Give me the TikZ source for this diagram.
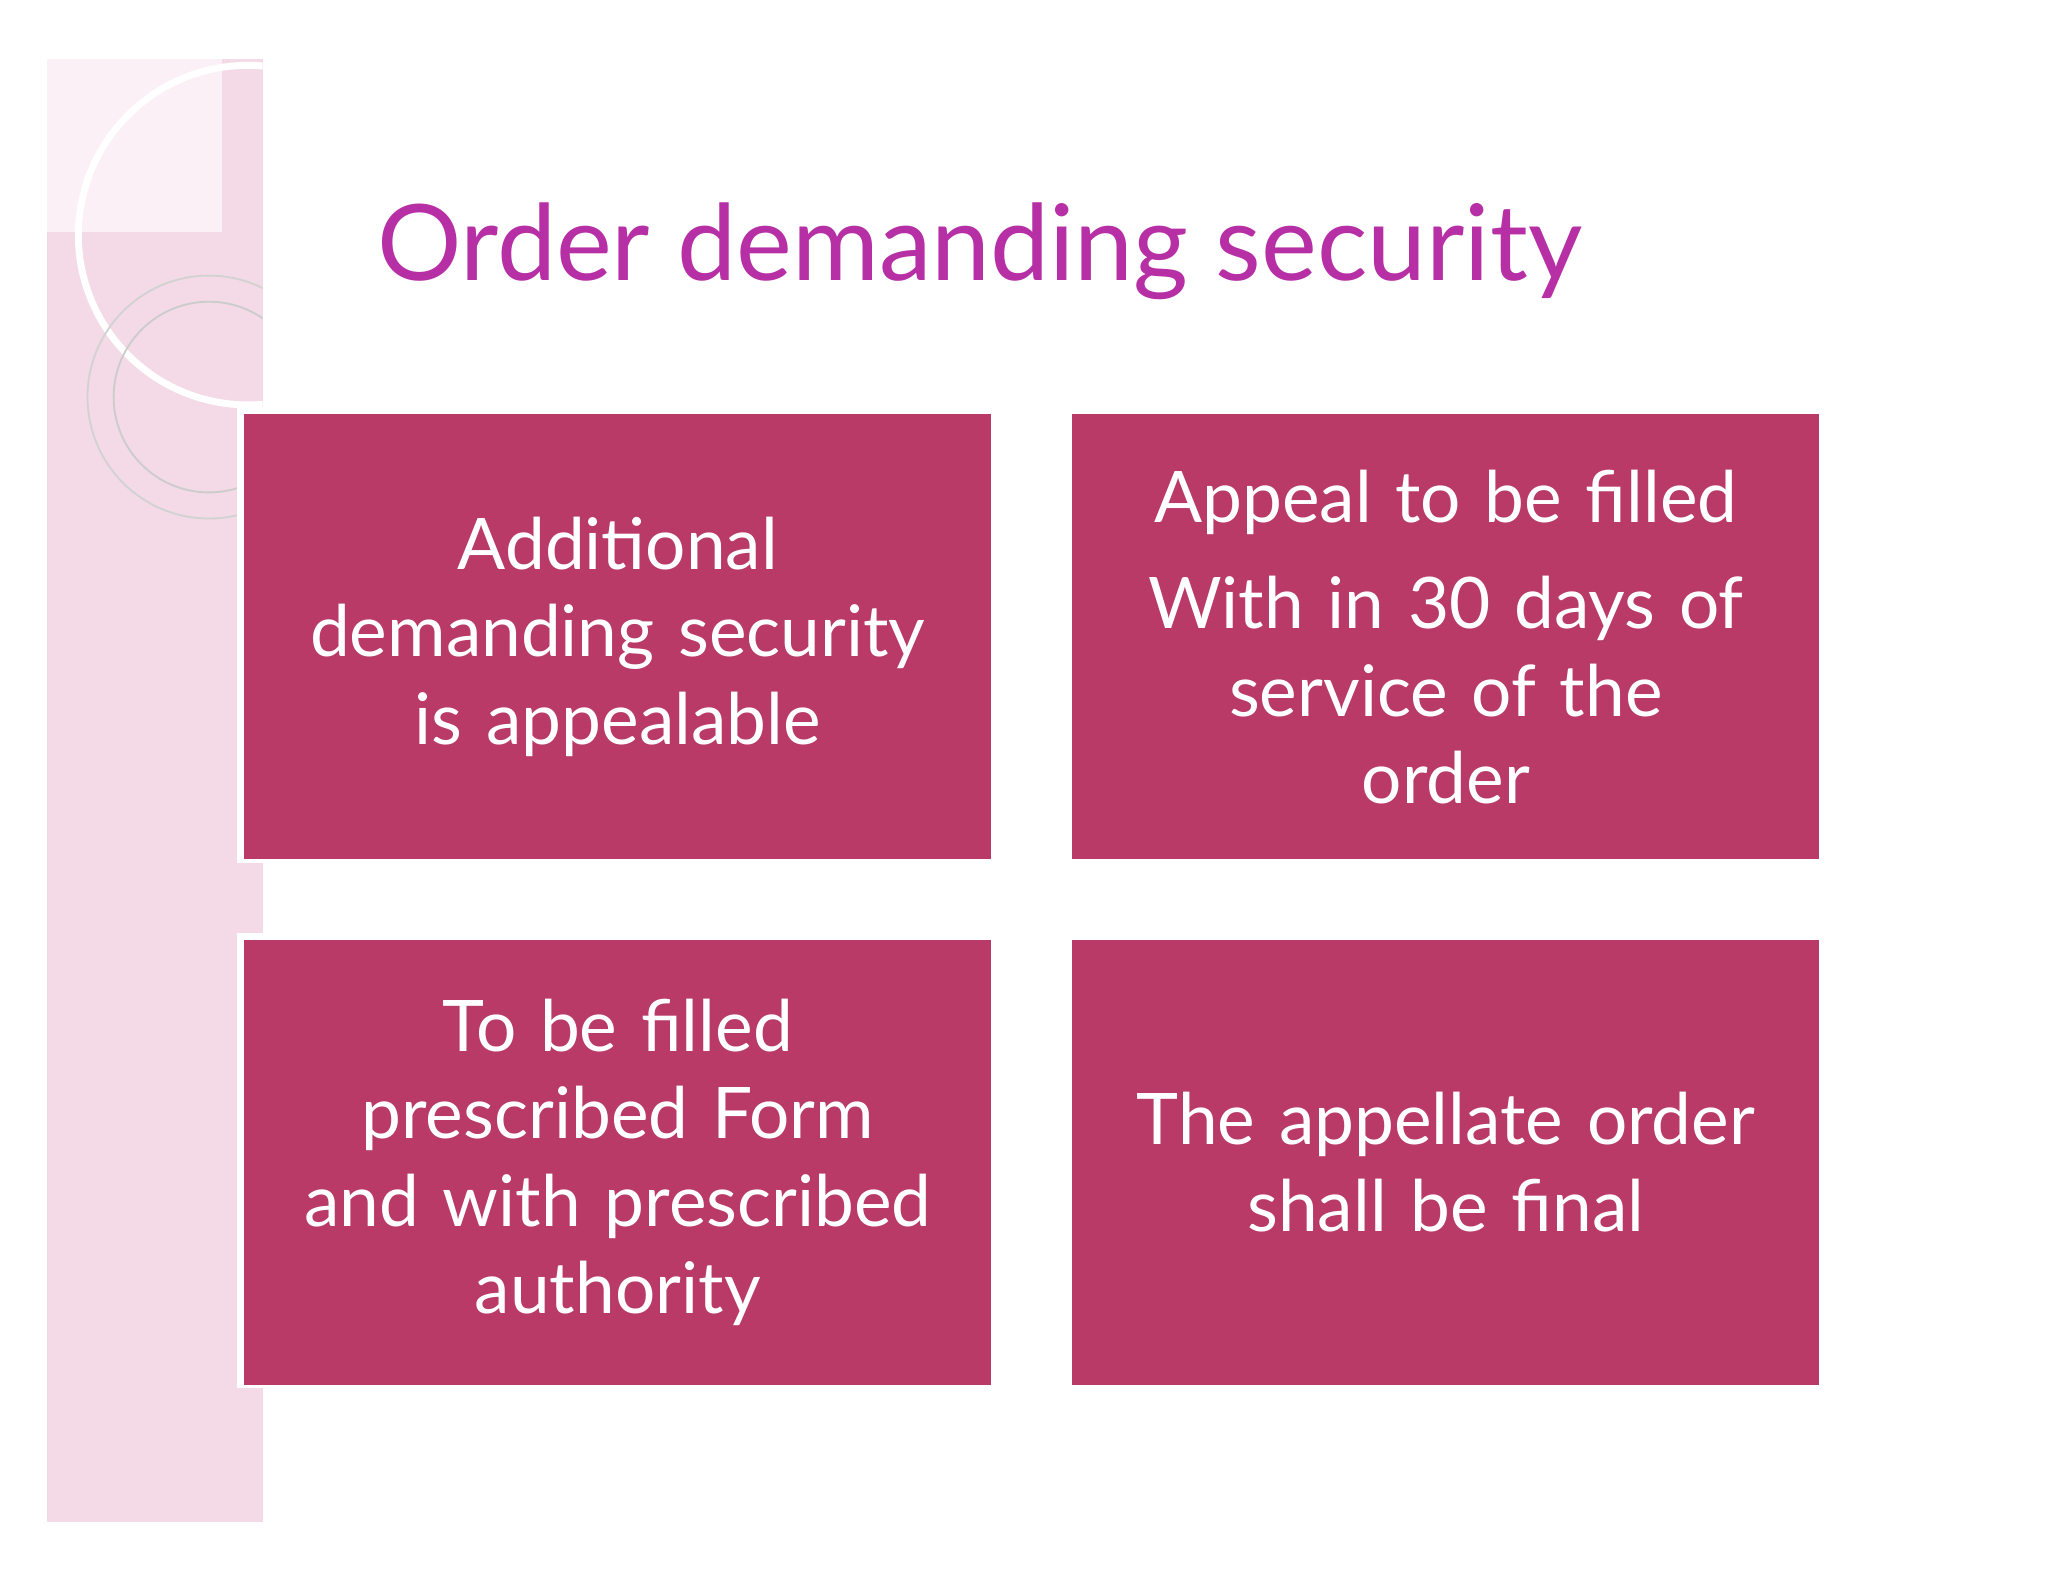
\documentclass[tikz,border=0pt]{standalone}
\usepackage{fontspec}
\setmainfont{Lato}
\begin{document}
\begin{tikzpicture}[x=0.1mm,y=-0.1mm,
  card/.style={fill=cardc,text=white,align=center,font=\fontsize{15.5}{19}\selectfont,inner sep=0pt,text width=55mm,minimum width=57.2mm,minimum height=34.1mm},
  ]
\definecolor{cardc}{HTML}{B93A66}
\definecolor{titlec}{HTML}{B62FA5}
\definecolor{stripc}{HTML}{F3DAE6}
\useasboundingbox (0,0) rectangle (1568,1211);
\fill[white] (0,0) rectangle (1568,1211);
\fill[stripc] (36,45) rectangle (201,1165);
\fill[white!60!stripc] (36,45) rectangle (170,178);
\begin{scope}
\clip (36,45) rectangle (201,1165);
\draw[white,line width=1.5pt] (190,180) circle (130);
\draw[gray!40] (160,304) circle (73);
\draw[gray!35] (160,304) circle (93);
\end{scope}
\node[text=titlec,font=\fontsize{23}{28}\selectfont,anchor=base west,inner sep=0pt] (title) at (288,215) {Order demanding security};
\draw[white,line width=1.5pt] (184,314) rectangle (759,658);
\draw[white,line width=1.5pt] (184,717) rectangle (759,1060);
\node[card] (a) at (473,487.5) {Additional\\demanding security\\is appealable};
\node[card] (b) at (1107,487.5) {Appeal to be filled\\[1.5mm] With in 30 days of\\service of the\\order};
\node[card] (c) at (473,890) {To be filled\\prescribed Form\\and with prescribed\\authority};
\node[card] (d) at (1107,890) {The appellate order\\shall be final};
\end{tikzpicture}
\end{document}
